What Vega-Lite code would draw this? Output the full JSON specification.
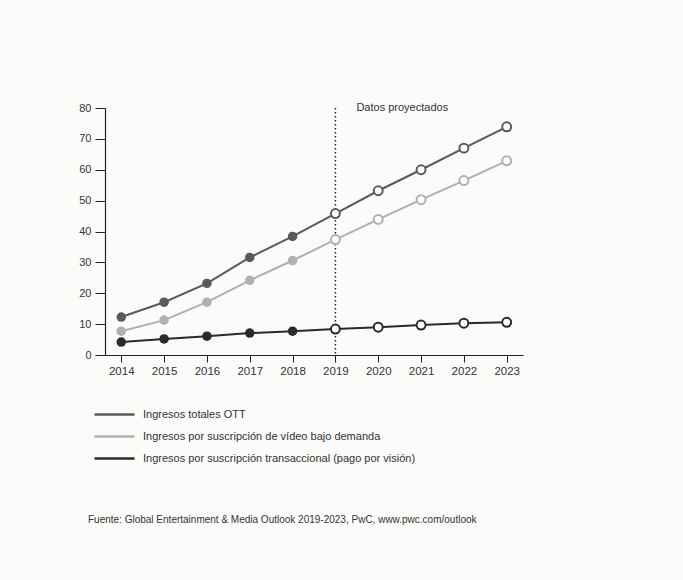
{
  "$schema": "https://vega.github.io/schema/vega-lite/v6.json",
  "width": 418,
  "height": 247,
  "padding": {"left": 78, "top": 102, "right": 167, "bottom": 55},
  "background": "#fbfbfa",
  "config": {
    "view": {"stroke": null},
    "font": "Liberation Sans",
    "axis": {"labelFont": "Liberation Sans", "labelColor": "#333", "domainColor": "#222", "tickColor": "#222", "grid": false}
  },
  "title": {
    "text": "Fuente: Global Entertainment & Media Outlook 2019-2023, PwC, www.pwc.com/outlook",
    "orient": "bottom",
    "anchor": "start",
    "frame": "group",
    "dx": -17,
    "offset": 51,
    "fontSize": 10,
    "fontWeight": "normal",
    "color": "#333"
  },
  "datasets": {
    "series": [
      {"year": 2014, "serie": "Ingresos totales OTT", "value": 12.3},
      {"year": 2015, "serie": "Ingresos totales OTT", "value": 17.1},
      {"year": 2016, "serie": "Ingresos totales OTT", "value": 23.2},
      {"year": 2017, "serie": "Ingresos totales OTT", "value": 31.6},
      {"year": 2018, "serie": "Ingresos totales OTT", "value": 38.4},
      {"year": 2019, "serie": "Ingresos totales OTT", "value": 45.8},
      {"year": 2020, "serie": "Ingresos totales OTT", "value": 53.2},
      {"year": 2021, "serie": "Ingresos totales OTT", "value": 60.0},
      {"year": 2022, "serie": "Ingresos totales OTT", "value": 67.0},
      {"year": 2023, "serie": "Ingresos totales OTT", "value": 73.9},
      {"year": 2014, "serie": "Ingresos por suscripción de vídeo bajo demanda", "value": 7.7},
      {"year": 2015, "serie": "Ingresos por suscripción de vídeo bajo demanda", "value": 11.3},
      {"year": 2016, "serie": "Ingresos por suscripción de vídeo bajo demanda", "value": 17.1},
      {"year": 2017, "serie": "Ingresos por suscripción de vídeo bajo demanda", "value": 24.2},
      {"year": 2018, "serie": "Ingresos por suscripción de vídeo bajo demanda", "value": 30.6},
      {"year": 2019, "serie": "Ingresos por suscripción de vídeo bajo demanda", "value": 37.4},
      {"year": 2020, "serie": "Ingresos por suscripción de vídeo bajo demanda", "value": 43.9},
      {"year": 2021, "serie": "Ingresos por suscripción de vídeo bajo demanda", "value": 50.3},
      {"year": 2022, "serie": "Ingresos por suscripción de vídeo bajo demanda", "value": 56.5},
      {"year": 2023, "serie": "Ingresos por suscripción de vídeo bajo demanda", "value": 62.9},
      {"year": 2014, "serie": "Ingresos por suscripción transaccional (pago por visión)", "value": 4.2},
      {"year": 2015, "serie": "Ingresos por suscripción transaccional (pago por visión)", "value": 5.2},
      {"year": 2016, "serie": "Ingresos por suscripción transaccional (pago por visión)", "value": 6.1},
      {"year": 2017, "serie": "Ingresos por suscripción transaccional (pago por visión)", "value": 7.1},
      {"year": 2018, "serie": "Ingresos por suscripción transaccional (pago por visión)", "value": 7.7},
      {"year": 2019, "serie": "Ingresos por suscripción transaccional (pago por visión)", "value": 8.4},
      {"year": 2020, "serie": "Ingresos por suscripción transaccional (pago por visión)", "value": 9.0},
      {"year": 2021, "serie": "Ingresos por suscripción transaccional (pago por visión)", "value": 9.7},
      {"year": 2022, "serie": "Ingresos por suscripción transaccional (pago por visión)", "value": 10.3},
      {"year": 2023, "serie": "Ingresos por suscripción transaccional (pago por visión)", "value": 10.6}
    ],
    "marker": [
      {"year": 2019, "value": 80, "label": "Datos proyectados"}
    ]
  },
  "encoding": {
    "x": {
      "field": "year",
      "type": "ordinal",
      "scale": {"type": "point", "padding": 0.38, "domain": [2014, 2015, 2016, 2017, 2018, 2019, 2020, 2021, 2022, 2023]},
      "axis": {"title": null, "labelAngle": 0, "labelFontSize": 11.5, "tickSize": 7, "labelPadding": 3, "domainWidth": 1.2}
    },
    "y": {
      "field": "value",
      "type": "quantitative",
      "scale": {"domain": [0, 80], "nice": false},
      "axis": {"title": null, "values": [0, 10, 20, 30, 40, 50, 60, 70, 80], "labelFontSize": 11, "tickSize": 10, "labelPadding": 4, "domainWidth": 1.2}
    }
  },
  "layer": [
    {
      "data": {"name": "marker"},
      "mark": {"type": "rule", "strokeDash": [1.5, 2.5], "color": "#222", "strokeWidth": 1.5},
      "encoding": {"y": null}
    },
    {
      "data": {"name": "marker"},
      "mark": {"type": "text", "align": "left", "baseline": "middle", "dx": 21, "fontSize": 11, "color": "#333"},
      "encoding": {"text": {"field": "label"}}
    },
    {
      "data": {"name": "series"},
      "mark": {"type": "line", "strokeWidth": 2},
      "encoding": {
        "color": {
          "field": "serie",
          "type": "nominal",
          "sort": ["Ingresos totales OTT", "Ingresos por suscripción de vídeo bajo demanda", "Ingresos por suscripción transaccional (pago por visión)"],
          "scale": {
            "domain": ["Ingresos totales OTT", "Ingresos por suscripción de vídeo bajo demanda", "Ingresos por suscripción transaccional (pago por visión)"],
            "range": ["#5a5a5a", "#b0b0b0", "#2a2a2a"]
          },
          "legend": {
            "title": null,
            "orient": "none",
            "legendX": 3,
            "legendY": 300,
            "direction": "vertical",
            "symbolType": "M-4,0H4",
            "symbolSize": 100,
            "symbolStrokeWidth": 2.5,
            "labelOffset": 22,
            "labelFontSize": 11,
            "labelColor": "#333",
            "labelLimit": 400,
            "rowPadding": 10
          }
        }
      }
    },
    {
      "data": {"name": "series"},
      "transform": [{"filter": "datum.year <= 2018"}],
      "mark": {"type": "point", "filled": true, "size": 90, "opacity": 1},
      "encoding": {"color": {"field": "serie", "type": "nominal", "legend": null}}
    },
    {
      "data": {"name": "series"},
      "transform": [{"filter": "datum.year >= 2019"}],
      "mark": {"type": "point", "filled": false, "fill": "white", "size": 80, "strokeWidth": 2, "opacity": 1},
      "encoding": {"color": {"field": "serie", "type": "nominal", "legend": null}}
    }
  ]
}
